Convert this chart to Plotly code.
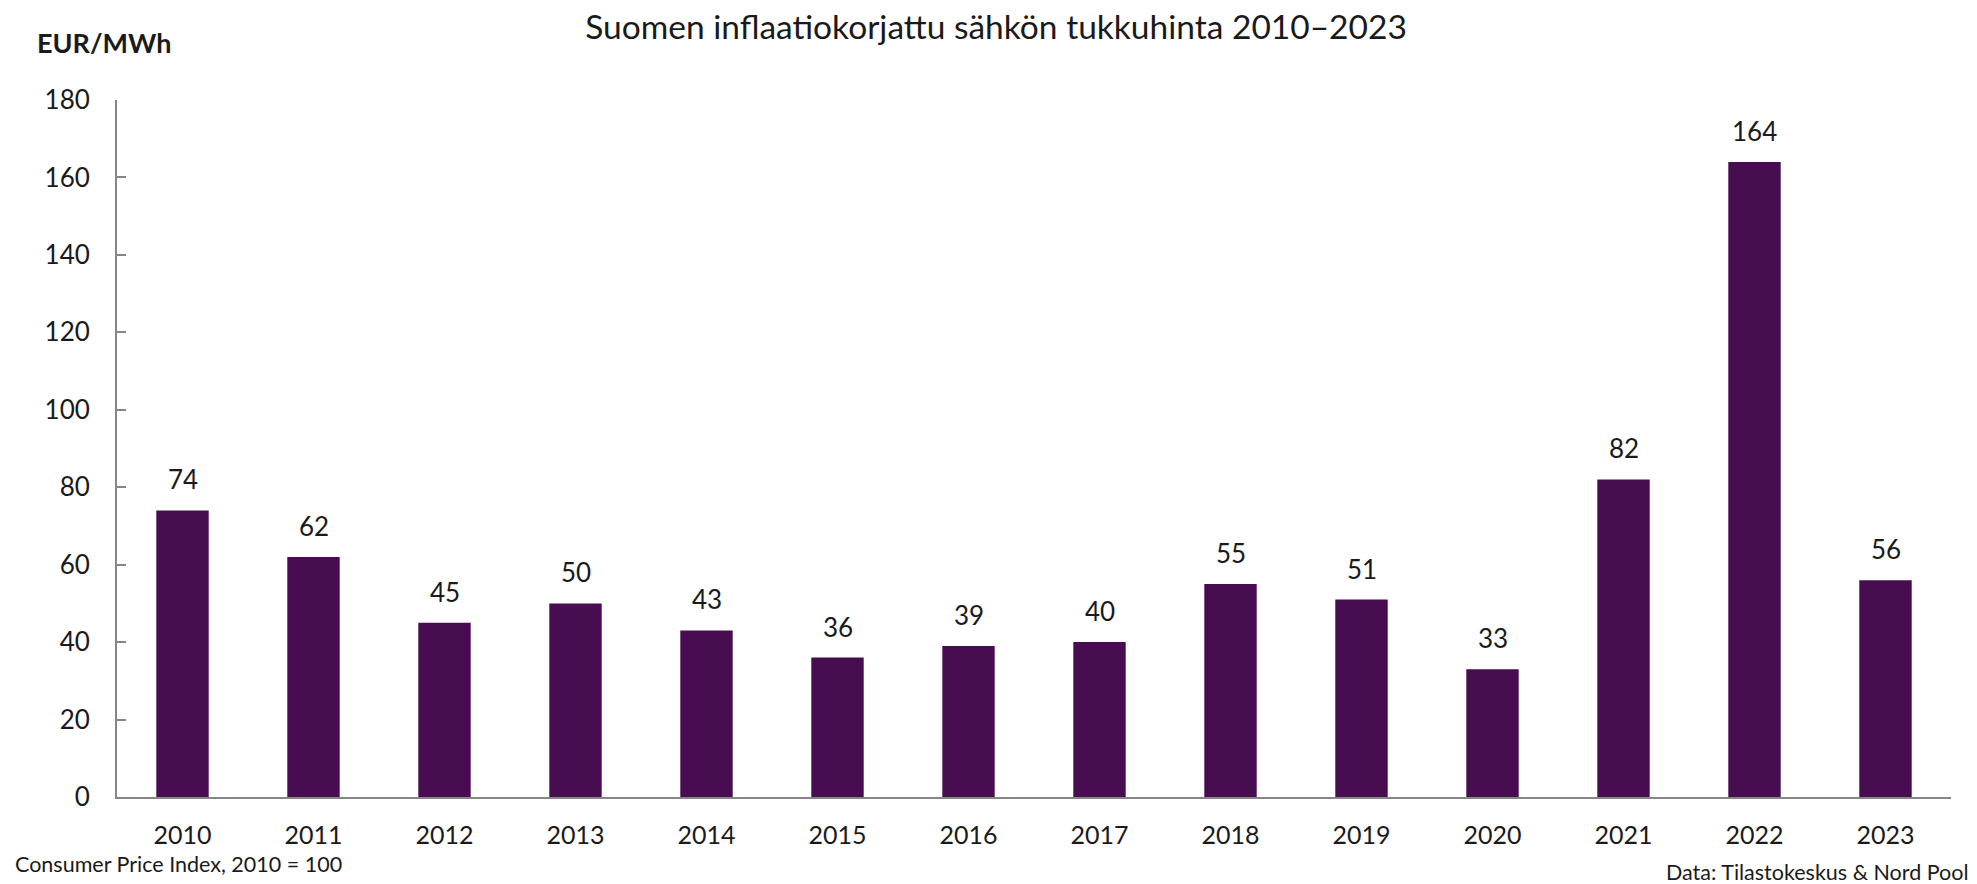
"""
Inflation-adjusted wholesale electricity price in Finland, 2010-2023.
"""
import plotly.graph_objects as go

years = ["2010", "2011", "2012", "2013", "2014", "2015", "2016",
         "2017", "2018", "2019", "2020", "2021", "2022", "2023"]
prices = [74, 62, 45, 50, 43, 36, 39, 40, 55, 51, 33, 82, 164, 56]
y_ticks = [0, 20, 40, 60, 80, 100, 120, 140, 160, 180]

title = "Suomen inflaatiokorjattu sähkön tukkuhinta 2010–2023"
unit = "EUR/MWh"
note_left = "Consumer Price Index, 2010 = 100"
note_right = "Data: Tilastokeskus & Nord Pool"

FONT = "Lato"
TEXT = "#1a1a1a"
BAR = "#480C50"
AXIS = "#868686"

# the page body has an 8px margin, so the figure is drawn 8px smaller
W, H = 1969, 876

fig = go.Figure()

fig.add_trace(go.Bar(
    x=years,
    y=prices,
    marker=dict(color=BAR, line=dict(width=0)),
    width=0.4,
    hoverinfo="x+y",
))

# value labels above bars (category axis -> annotations use the category index)
for i, val in enumerate(prices):
    fig.add_annotation(
        x=i, y=val, text=str(val),
        showarrow=False, yanchor="bottom", yshift=13,
        font=dict(family=FONT, size=26, color=TEXT),
    )

fig.add_annotation(
    text=f"<b>{unit}</b>", xref="paper", yref="paper",
    x=-0.0447, y=1.082, xanchor="left", yanchor="middle",
    showarrow=False, font=dict(family=FONT, size=27, color=TEXT),
)
fig.add_annotation(
    text=note_left, xref="paper", yref="paper",
    x=-0.0567, y=-0.096, xanchor="left", yanchor="middle",
    showarrow=False, font=dict(family=FONT, size=21.5, color=TEXT),
)
fig.add_annotation(
    text=note_right, xref="paper", yref="paper",
    x=1.0104, y=-0.107, xanchor="right", yanchor="middle",
    showarrow=False, font=dict(family=FONT, size=21.5, color=TEXT),
)

fig.update_layout(
    width=W,
    height=H,
    margin=dict(l=109, r=26, t=92, b=87),
    paper_bgcolor="white",
    plot_bgcolor="white",
    showlegend=False,
    title=dict(
        text=title, xref="container", yref="container",
        x=988 / W, y=1 - 19 / H, xanchor="center", yanchor="middle",
        font=dict(family=FONT, size=33.5, color=TEXT),
    ),
    font=dict(family=FONT, color=TEXT),
    xaxis=dict(
        type="category",
        range=[-0.5, len(years) - 0.5],
        automargin=False,
        showline=True, linecolor=AXIS, linewidth=2,
        ticks="", showgrid=False, zeroline=False,
        tickfont=dict(family=FONT, size=25, color=TEXT),
        ticklabelstandoff=15,
    ),
    yaxis=dict(
        range=[0, 180],
        tickvals=y_ticks,
        automargin=False,
        showline=True, linecolor=AXIS, linewidth=2,
        ticks="inside", ticklen=9, tickwidth=2, tickcolor=AXIS,
        showgrid=False, zeroline=False,
        tickfont=dict(family=FONT, size=26, color=TEXT),
        ticklabelstandoff=20,
    ),
)

fig.write_html("out.html")
